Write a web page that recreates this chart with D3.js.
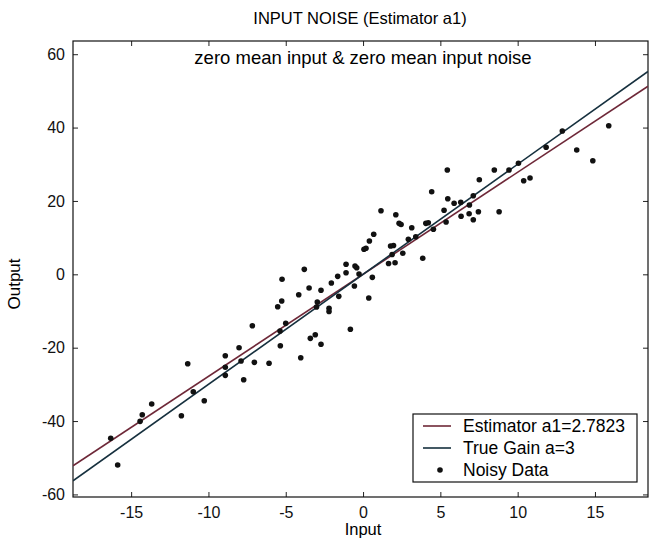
<!DOCTYPE html>
<html>
<head>
<meta charset="utf-8">
<script src="https://cdn.jsdelivr.net/npm/d3@7"></script>
<style>
  body { margin: 0; background: #fff; }
  svg { font-family: "Liberation Sans", Arial, sans-serif; }
</style>
</head>
<body>
<svg id="chart" width="649" height="542"></svg>
<script>
// input samples and noisy output
const inputX = [
  -16.32, -15.87, -14.42, -14.28, -13.67, -11.75, -11.34, -10.98, -10.27, -8.91,
  -8.91, -8.91, -8.02, -7.89, -7.72, -7.16, -7.03, -6.08, -5.35, -5.37,
  -5.00, -5.52, -5.26, -5.24, -4.16, -4.03, -3.80, -3.49, -3.41, -3.09,
  -2.96, -3.01, -2.72, -2.72, -2.20, -2.20, -2.05, -1.57, -1.64, -1.10,
  -1.10, -0.82, -0.56, -0.52, -0.41, -0.26, 0.06, 0.19, 0.41, 0.69,
  0.37, 0.60, 1.16, 2.12, 2.33, 2.46, 1.65, 2.07, 1.78, 1.97,
  1.88, 2.57, 2.93, 3.15, 3.41, 3.86, 4.06, 4.22, 4.55, 4.44,
  5.24, 5.37, 5.48, 5.45, 5.89, 6.32, 6.34, 6.86, 6.88, 7.13,
  7.13, 7.46, 7.52, 8.49, 8.80, 9.44, 10.05, 10.39, 10.80, 11.84,
  12.89, 13.82, 14.86, 15.89
];
const noisyY = [
  -44.71, -51.99, -40.08, -38.28, -35.36, -38.55, -24.37, -32.01, -34.46, -22.19,
  -25.35, -27.54, -20.01, -23.64, -28.74, -14.01, -23.99, -24.26, -19.47, -15.46,
  -13.36, -8.83, -7.28, -1.36, -5.56, -22.74, 1.36, -3.74, -17.45, -16.47,
  -7.55, -8.91, -4.36, -19.08, -9.27, -10.14, -2.37, -6.00, -0.55, 2.73,
  0.44, -14.99, -3.19, 2.26, 1.80, 0.08, 6.82, 7.09, 9.08, 10.91,
  -6.46, -0.82, 17.34, 16.25, 13.90, 13.58, 2.94, 3.16, 7.72, 7.85,
  5.40, 5.73, 9.54, 12.70, 10.25, 4.36, 13.90, 14.07, 12.27, 22.52,
  17.45, 14.25, 20.61, 28.44, 19.36, 19.63, 15.81, 16.52, 18.89, 21.43,
  14.89, 17.07, 25.79, 28.44, 17.07, 28.44, 30.26, 25.52, 26.25, 34.62,
  39.07, 33.89, 30.97, 40.51
];

const estGain = 2.7823;
const trueGain = 3;
const xTicks = [-15, -10, -5, 0, 5, 10, 15];
const yTicks = [-60, -40, -20, 0, 20, 40, 60];
const legendLabels = ['Estimator a1=2.7823', 'True Gain a=3', 'Noisy Data'];

const plotL = 73, plotR = 648, plotT = 41, plotB = 497;
const xMin = -18.76, xMax = 18.43;

const svg = d3.select('#chart');

const x = d3.scaleLinear().domain([xMin, xMax]).range([plotL, plotR]);
const y = d3.scaleLinear().domain([-60.7, 63.6]).range([plotB, plotT]);

svg.append('defs').append('clipPath').attr('id', 'plot-clip')
  .append('rect')
  .attr('x', plotL).attr('y', plotT)
  .attr('width', plotR - plotL).attr('height', plotB - plotT);

// plain hyphen minus like the original, not the unicode one d3 uses
const fmt = d => String(d);

// axes, MATLAB style ticks pointing inward on all four sides
const axB = svg.append('g')
  .attr('transform', `translate(0,${plotB})`)
  .call(d3.axisBottom(x).tickValues(xTicks).tickFormat(fmt).tickSizeInner(-5).tickSizeOuter(0).tickPadding(10));
const axT = svg.append('g')
  .attr('transform', `translate(0,${plotT})`)
  .call(d3.axisTop(x).tickValues(xTicks).tickSizeInner(-5).tickSizeOuter(0).tickFormat(''));
const axL = svg.append('g')
  .attr('transform', `translate(${plotL},0)`)
  .call(d3.axisLeft(y).tickValues(yTicks).tickFormat(fmt).tickSizeInner(-5).tickSizeOuter(0).tickPadding(8));
const axR = svg.append('g')
  .attr('transform', `translate(${plotR},0)`)
  .call(d3.axisRight(y).tickValues(yTicks).tickSizeInner(-5).tickSizeOuter(0).tickFormat(''));

[axB, axT, axL, axR].forEach(a => {
  a.select('.domain').remove();
  a.selectAll('line').attr('stroke', '#222');
  a.selectAll('text').attr('fill', '#111').style('font-size', '16px');
});

svg.append('rect')
  .attr('x', plotL).attr('y', plotT)
  .attr('width', plotR - plotL).attr('height', plotB - plotT)
  .attr('fill', 'none').attr('stroke', '#111').attr('stroke-width', 1.2);

const plot = svg.append('g').attr('clip-path', 'url(#plot-clip)');

// fitted and true gain lines
const lines = [
  { gain: estGain, color: '#6e2838' },
  { gain: trueGain, color: '#16303e' }
];
plot.selectAll('line.fit')
  .data(lines)
  .join('line')
  .attr('class', 'fit')
  .attr('x1', x(xMin)).attr('x2', x(xMax))
  .attr('y1', d => y(d.gain * xMin))
  .attr('y2', d => y(d.gain * xMax))
  .attr('stroke', d => d.color)
  .attr('stroke-width', 1.6);

plot.selectAll('circle.pt')
  .data(inputX.map((v, i) => [v, noisyY[i]]))
  .join('circle')
  .attr('class', 'pt')
  .attr('cx', d => x(d[0]))
  .attr('cy', d => y(d[1]))
  .attr('r', 2.8)
  .attr('fill', '#111');

// titles
svg.append('text')
  .attr('x', 360).attr('y', 24)
  .attr('text-anchor', 'middle')
  .style('font-size', '16.5px')
  .text('INPUT NOISE (Estimator a1)');

svg.append('text')
  .attr('x', 363).attr('y', 64)
  .attr('text-anchor', 'middle')
  .style('font-size', '18.5px')
  .text('zero mean input & zero mean input noise');

svg.append('text')
  .attr('x', 363).attr('y', 535)
  .attr('text-anchor', 'middle')
  .style('font-size', '16.5px')
  .text('Input');

svg.append('text')
  .attr('transform', 'translate(20,284) rotate(-90)')
  .attr('text-anchor', 'middle')
  .style('font-size', '17px')
  .text('Output');

// legend
const lg = svg.append('g').attr('transform', 'translate(413,414)');
lg.append('rect')
  .attr('width', 224).attr('height', 68)
  .attr('fill', '#fff').attr('stroke', '#111').attr('stroke-width', 1.2);

const rows = lg.selectAll('g.row')
  .data(legendLabels)
  .join('g')
  .attr('class', 'row')
  .attr('transform', (d, i) => `translate(0,${12 + i * 22})`);

rows.filter((d, i) => i < 2).append('line')
  .attr('x1', 10).attr('x2', 38)
  .attr('stroke', (d, i) => lines[i].color)
  .attr('stroke-width', 1.6);
rows.filter((d, i) => i === 2).append('circle')
  .attr('cx', 27).attr('r', 2.8).attr('fill', '#111');
rows.append('text')
  .attr('x', 50).attr('dy', '0.36em')
  .style('font-size', '17.5px')
  .text(d => d);
</script>
</body>
</html>
